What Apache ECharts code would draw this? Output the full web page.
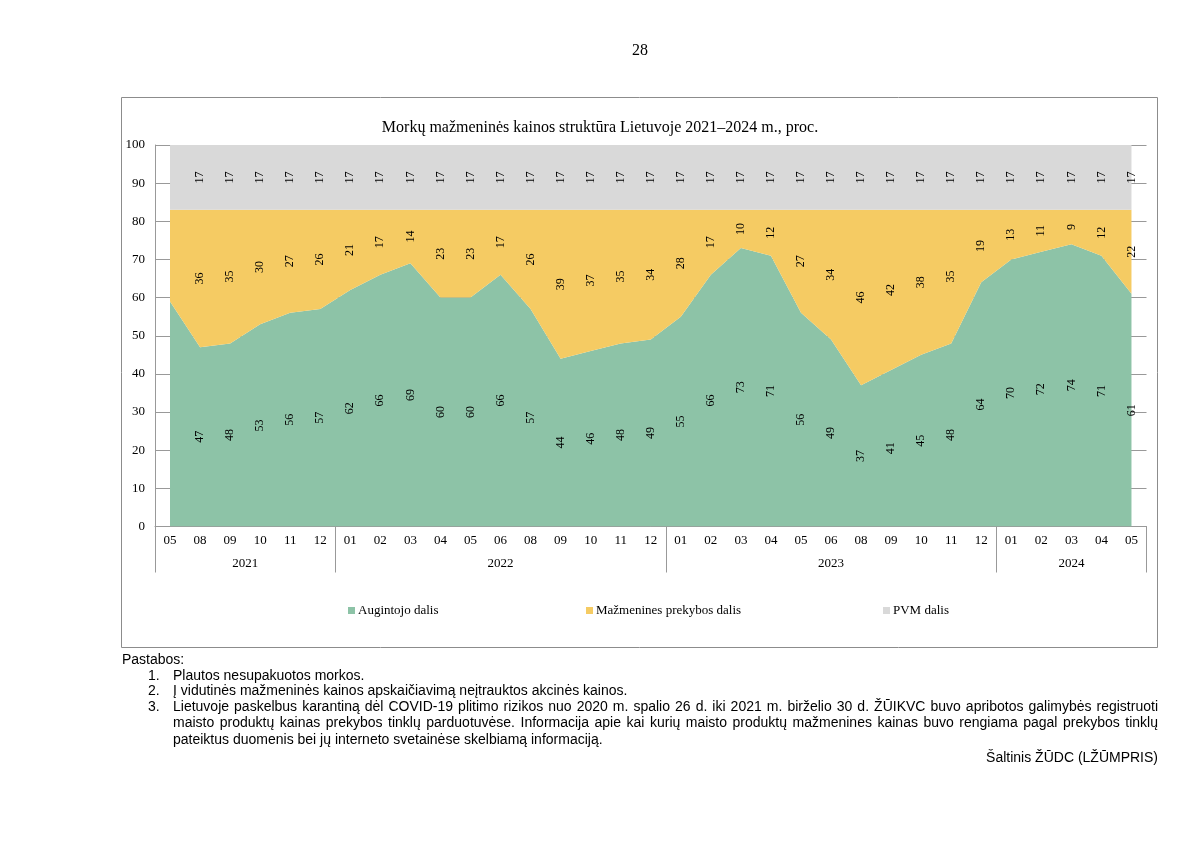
<!DOCTYPE html>
<html>
<head>
<meta charset="utf-8">
<script src="https://cdn.jsdelivr.net/npm/echarts@6/dist/echarts.min.js"></script>
<style>
  body { margin: 0; background: #fff; }
  #wrap { position: relative; width: 1200px; height: 849px; overflow: hidden; }
  #chart { position: absolute; left: 0; top: 0; width: 1200px; height: 849px; }
  .note { position: absolute; font-family: "Liberation Sans", Arial, sans-serif; font-size: 14px; line-height: 16px; color: #000; white-space: nowrap; }
  .just { white-space: normal; width: 985px; text-align: justify; text-align-last: justify; }
</style>
</head>
<body>
<div id="wrap">
  <div id="chart"></div>
  <div class="note" style="left:640px;top:42px;transform:translateX(-50%);font-family:'Liberation Serif',serif;font-size:16px;">28</div>
  <div class="note" style="left:122px;top:651px;">Pastabos:</div>
  <div class="note" style="left:148px;top:667px;">1.</div>
  <div class="note" style="left:173px;top:667px;">Plautos nesupakuotos morkos.</div>
  <div class="note" style="left:148px;top:682px;">2.</div>
  <div class="note" style="left:173px;top:682px;">Į vidutinės mažmeninės kainos apskaičiavimą neįtrauktos akcinės kainos.</div>
  <div class="note" style="left:148px;top:698px;">3.</div>
  <div class="note just" style="left:173px;top:698px;">Lietuvoje paskelbus karantiną dėl COVID-19 plitimo rizikos nuo 2020 m. spalio 26 d. iki 2021 m. birželio 30 d. ŽŪIKVC buvo apribotos galimybės registruoti</div>
  <div class="note just" style="left:173px;top:714px;">maisto produktų kainas prekybos tinklų parduotuvėse. Informacija apie kai kurių maisto produktų mažmenines kainas buvo rengiama pagal prekybos tinklų</div>
  <div class="note" style="left:173px;top:731px;">pateiktus duomenis bei jų interneto svetainėse skelbiamą informaciją.</div>
  <div class="note" style="right:42px;top:749px;">Šaltinis ŽŪDC (LŽŪMPRIS)</div>
</div>
<script>
// ---- data ----
const months = ['05','08','09','10','11','12',
  '01','02','03','04','05','06','08','09','10','11','12',
  '01','02','03','04','05','06','08','09','10','11','12',
  '01','02','03','04','05'];
const yearLabels = ['2021','2022','2023','2024'];
const yearCounts = [6, 11, 11, 5];
const seriesNames = ['Augintojo dalis', 'Mažmenines prekybos dalis', 'PVM dalis'];
const grower = [59,47,48,53,56,57,62,66,69,60,60,66,57,44,46,48,49,55,66,73,71,56,49,37,41,45,48,64,70,72,74,71,61];
const retail = [24,36,35,30,27,26,21,17,14,23,23,17,26,39,37,35,34,28,17,10,12,27,34,46,42,38,35,19,13,11,9,12,22];
const vat    = [17,17,17,17,17,17,17,17,17,17,17,17,17,17,17,17,17,17,17,17,17,17,17,17,17,17,17,17,17,17,17,17,17];
const unlabeledIndex = [0];
const yTicks = [0,10,20,30,40,50,60,70,80,90,100];

// ---- derived axis helpers ----
const yearBounds = [0];
yearCounts.forEach(c => yearBounds.push(yearBounds[yearBounds.length - 1] + c));
const yearCenters = yearCounts.map((c, i) => yearBounds[i] + c / 2);

const colors = ['#8dc3a7', '#f5cb63', '#d9d9d9'];
const values = [grower, retail, vat];
const serif = '"Liberation Serif", "Times New Roman", serif';

const areaSeries = values.map((arr, i) => ({
  name: seriesNames[i],
  type: 'line',
  stack: 'total',
  data: arr,
  symbol: 'none',
  color: colors[i],
  lineStyle: { width: 0 },
  areaStyle: { color: colors[i], opacity: 1 },
  silent: true,
  z: 2
}));

const labelSeries = values.map((arr, i) => ({
  name: 'lbl' + i,
  type: 'bar',
  stack: 'labels',
  barWidth: '60%',
  data: arr.map((v, k) => unlabeledIndex.includes(k) ? { value: v, label: { show: false } } : v),
  itemStyle: { color: 'rgba(0,0,0,0)' },
  label: {
    show: true, position: 'inside', rotate: 90,
    fontFamily: serif, fontSize: 12, color: '#000'
  },
  silent: true,
  z: 3
}));

const chart = echarts.init(document.getElementById('chart'), null, { renderer: 'canvas' });
chart.setOption({
  animation: false,
  backgroundColor: '#fff',
  title: {
    text: 'Morkų mažmeninės kainos struktūra Lietuvoje 2021–2024 m., proc.',
    left: 'center', top: 115,
    textStyle: { fontFamily: serif, fontSize: 16, fontWeight: 'normal', color: '#000' }
  },
  legend: seriesNames.map((n, i) => ({
    data: [n],
    left: [343, 581, 878][i],
    top: 599,
    icon: 'rect', itemWidth: 7, itemHeight: 7, itemGap: 0,
    textStyle: { fontFamily: serif, fontSize: 13, color: '#000', padding: [0, 0, 0, -2] },
    selectedMode: false
  })),
  graphic: [{
    type: 'rect', z: -10, silent: true,
    shape: { x: 121.5, y: 97.5, width: 1036, height: 550 },
    style: { fill: 'none', stroke: '#8c8c8c', lineWidth: 1 }
  }],
  grid: { left: 155, top: 145, width: 991.5, height: 381.5, containLabel: false },
  xAxis: [{
    type: 'category',
    data: months,
    position: 'bottom',
    boundaryGap: true,
    axisLine: { show: true, onZero: false, lineStyle: { color: '#999', width: 1 } },
    axisTick: { show: false },
    axisLabel: { interval: 0, margin: 8, fontFamily: serif, fontSize: 13, color: '#000' },
    splitLine: { show: false }
  }, {
    type: 'value',
    position: 'bottom',
    min: 0, max: months.length,
    axisLine: { show: false, onZero: false },
    axisTick: { show: true, customValues: yearBounds, length: 46, lineStyle: { color: '#999', width: 1 } },
    axisLabel: {
      customValues: yearCenters, margin: 31,
      fontFamily: serif, fontSize: 13, color: '#000',
      formatter: v => yearLabels[yearCenters.indexOf(v)]
    },
    splitLine: { show: false }
  }],
  yAxis: {
    type: 'value',
    min: 0, max: 100, interval: 10,
    axisLine: { show: true, onZero: false, lineStyle: { color: '#999', width: 1 } },
    axisTick: { show: false },
    axisLabel: { margin: 10, fontFamily: serif, fontSize: 13, color: '#000',
      customValues: yTicks },
    splitLine: { show: true, lineStyle: { color: '#999', width: 1 } }
  },
  series: areaSeries.concat(labelSeries)
});
</script>
</body>
</html>
